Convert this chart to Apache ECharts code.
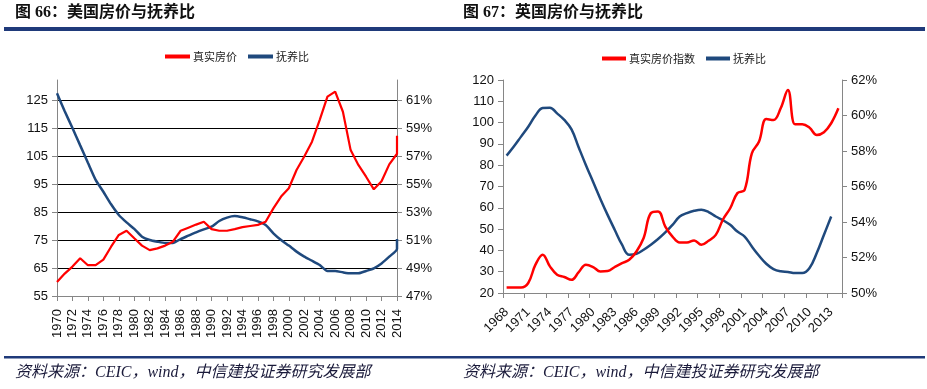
<!DOCTYPE html>
<html>
<head>
<meta charset="utf-8">
<script src="https://cdn.jsdelivr.net/npm/echarts@6/dist/echarts.min.js"></script>
<style>
html,body{margin:0;padding:0;background:#fff;}
#c{width:927px;height:389px;}
</style>
</head>
<body>
<div id="c"></div>
<script>
// ---- Chart 66: US ----
const usYears = [1970,1971,1972,1973,1974,1975,1976,1977,1978,1979,1980,1981,1982,1983,1984,1985,1986,1987,1988,1989,1990,1991,1992,1993,1994,1995,1996,1997,1998,1999,2000,2001,2002,2003,2004,2005,2006,2007,2008,2009,2010,2011,2012,2013,2014];
const usPrice = [60,63,65.5,68.5,66,66,68,72.6,76.8,78.3,75.6,73,71.4,72,73,74.4,78.3,79.4,80.5,81.5,78.9,78.3,78.3,78.9,79.6,80,80.4,81.5,86.3,90.5,93.5,100,104.8,110.1,117.9,126.2,128,120.8,107.1,101.8,97.6,93.1,96,102,105.8];
const usPriceLast = 112.2;   // final 2014 reading
const usRatio = [61.48,60.2,59.0,57.76,56.52,55.3,54.45,53.55,52.79,52.26,51.79,51.24,51.0,50.88,50.79,50.79,51.07,51.31,51.55,51.76,51.95,52.36,52.6,52.71,52.62,52.48,52.33,52.07,51.48,51.0,50.6,50.17,49.81,49.52,49.21,48.79,48.79,48.69,48.62,48.62,48.79,48.98,49.33,49.81,50.36];
const usRatioLast = 51.07;   // final 2014 reading

// ---- Chart 67: UK ----
const ukYears = [1968,1969,1970,1971,1972,1973,1974,1975,1976,1977,1978,1979,1980,1981,1982,1983,1984,1985,1986,1987,1988,1989,1990,1991,1992,1993,1994,1995,1996,1997,1998,1999,2000,2001,2002,2003,2004,2005,2006,2007,2008,2009,2010,2011,2012,2013,2014];
const ukPrice = [22.6,22.6,22.6,24.7,33.3,38,32.5,28.6,27.5,26.2,29.8,33.3,32.2,30.1,30.3,32.2,34,35.6,39.5,45.8,57.5,58.3,51.2,46.5,43.7,43.7,44.7,42.6,44.5,47.3,54.5,59.8,66.9,68.4,85.6,91.1,101.7,101.2,106.7,115.3,99.2,99.2,97.6,94.2,95.5,99.7,106.7];
const ukRatio = [57.74,58.25,58.81,59.37,60.0,60.42,60.44,60.12,59.75,59.22,58.2,57.2,56.25,55.3,54.4,53.55,52.72,52.15,52.21,52.44,52.72,53.04,53.41,53.84,54.31,54.5,54.63,54.69,54.56,54.31,54.1,53.84,53.46,53.18,52.62,52.1,51.65,51.35,51.22,51.18,51.12,51.12,51.41,52.25,53.28,54.31];

const RED = '#FF0000', BLUE = '#1F497D', AX = '#868686', NAVY = '#1F3A7A';

const usPriceData = usYears.map((y,i)=>[y,usPrice[i]]).concat([[2014,usPriceLast]]);
const usRatioData = usYears.map((y,i)=>[y,usRatio[i]]).concat([[2014,usRatioLast]]);

const FF = '"Liberation Sans", Arial, sans-serif';
const chart = echarts.init(document.getElementById('c'), null, {renderer:'canvas'});

chart.setOption({
  animation:false,
  backgroundColor:'#fff',
  graphic:[
    {type:'text', left:15, top:5, style:{text:'图 66：美国房价与抚养比', font:'bold 16px "Liberation Serif","Noto Sans CJK SC",sans-serif', fill:'#111'}},
    {type:'text', left:463, top:5, style:{text:'图 67：英国房价与抚养比', font:'bold 16px "Liberation Serif","Noto Sans CJK SC",sans-serif', fill:'#111'}},
    {type:'rect', shape:{x:4,y:27,width:921,height:4}, style:{fill:NAVY}},
    {type:'rect', shape:{x:4,y:356,width:921,height:2.5}, style:{fill:NAVY}},
    {type:'text', left:15, top:365, style:{text:'资料来源：CEIC，wind，中信建投证券研究发展部', font:'italic 16px "Liberation Serif","Noto Sans CJK SC",serif', fill:'#1a1a3a'}},
    {type:'text', left:463, top:365, style:{text:'资料来源：CEIC，wind，中信建投证券研究发展部', font:'italic 16px "Liberation Serif","Noto Sans CJK SC",serif', fill:'#1a1a3a'}}
  ],
  legend:[
    {left:160, top:46, data:['真实房价','抚养比'], icon:'rect', itemWidth:25, itemHeight:4, itemGap:11,
     textStyle:{fontFamily:'"Noto Sans CJK SC",sans-serif', fontSize:11, color:'#222', padding:[0,0,0,-2]}},
    {left:597, top:48, data:['真实房价指数',{name:'抚养比'}], icon:'rect', itemWidth:24, itemHeight:4, itemGap:11,
     textStyle:{fontFamily:'"Noto Sans CJK SC",sans-serif', fontSize:11, color:'#222', padding:[0,0,0,-2]}}
  ],
  grid:[
    {left:57, right:530, top:80, bottom:93},
    {left:503, right:85, top:80, bottom:96}
  ],
  xAxis:[
    {type:'value', gridIndex:0, min:1970, max:2014, interval:2,
     axisLine:{lineStyle:{color:AX}}, axisTick:{show:true, length:5, lineStyle:{color:AX}},
     splitLine:{show:false},
     axisLabel:{rotate:90, margin:13, fontSize:13, fontFamily:FF, color:'#111', formatter:v=>String(v)}},
    {type:'category', gridIndex:1, data:ukYears.map(String), boundaryGap:true,
     axisLine:{lineStyle:{color:AX}}, axisTick:{show:true, interval:2, length:5, lineStyle:{color:AX}},
     axisLabel:{interval:2, rotate:45, margin:17, fontSize:13, fontFamily:FF, color:'#111'}}
  ],
  yAxis:[
    {type:'value', gridIndex:0, position:'left', min:55, max:132.14, interval:10,
     axisLine:{show:true, lineStyle:{color:AX}}, axisTick:{show:true, length:5, lineStyle:{color:AX}},
     splitLine:{show:true, showMaxLine:false, lineStyle:{color:'#000', width:1}},
     axisLabel:{showMaxLabel:false, margin:9, fontSize:13, fontFamily:FF, color:'#111'}},
    {type:'value', gridIndex:0, position:'right', min:47, max:62.43, interval:2,
     axisLine:{show:true, lineStyle:{color:AX}}, axisTick:{show:true, length:5, lineStyle:{color:AX}},
     splitLine:{show:false},
     axisLabel:{showMaxLabel:false, margin:9, fontSize:13, fontFamily:FF, color:'#111', formatter:'{value}%'}},
    {type:'value', gridIndex:1, position:'left', min:20, max:120, interval:10,
     axisLine:{show:true, lineStyle:{color:AX}}, axisTick:{show:true, length:5, lineStyle:{color:AX}},
     splitLine:{show:false},
     axisLabel:{margin:9, fontSize:13, fontFamily:FF, color:'#111'}},
    {type:'value', gridIndex:1, position:'right', min:50, max:62, interval:2,
     axisLine:{show:true, lineStyle:{color:AX}}, axisTick:{show:true, length:5, lineStyle:{color:AX}},
     splitLine:{show:false},
     axisLabel:{margin:9, fontSize:13, fontFamily:FF, color:'#111', formatter:'{value}%'}}
  ],
  series:[
    {name:'真实房价', type:'line', xAxisIndex:0, yAxisIndex:0, data:usPriceData, showSymbol:false, color:RED, lineStyle:{color:RED, width:2.2}, z:3},
    {name:'抚养比', type:'line', xAxisIndex:0, yAxisIndex:1, data:usRatioData, showSymbol:false, color:BLUE, lineStyle:{color:BLUE, width:2.5}, smooth:0.2, z:2},
    {name:'真实房价指数', type:'line', xAxisIndex:1, yAxisIndex:2, data:ukPrice, showSymbol:false, color:RED, lineStyle:{color:RED, width:2.5}, smooth:0.4, z:3},
    {name:'抚养比', type:'line', xAxisIndex:1, yAxisIndex:3, data:ukRatio, showSymbol:false, color:BLUE, lineStyle:{color:BLUE, width:2.5}, smooth:0.4, z:2}
  ]
});
</script>
</body>
</html>
